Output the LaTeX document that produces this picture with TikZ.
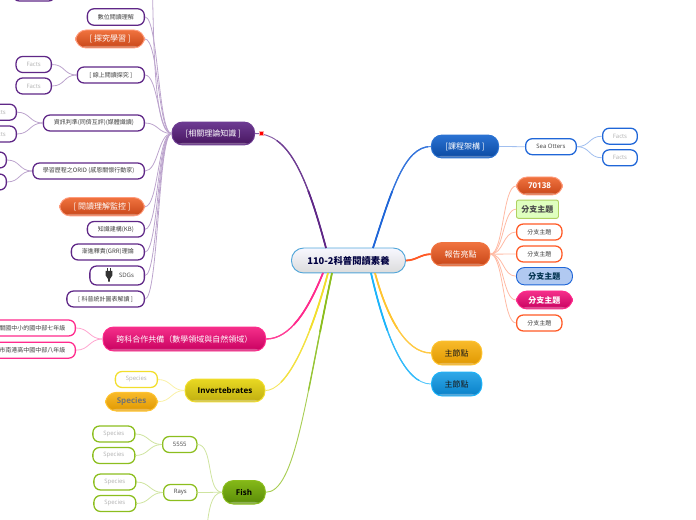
\documentclass[tikz,border=0pt]{standalone}
\usepackage{fontspec}
\setmainfont{Noto Sans CJK TC}
\newfontfamily\latinfont{Open Sans}
\newcommand{\smalltxt}{\fontsize{4.5}{5.5}\selectfont}
\newcommand{\bigtxt}{\fontsize{6}{7}\selectfont}

\definecolor{purpleA}{HTML}{6D3B92}
\definecolor{purpleB}{HTML}{47155F}
\definecolor{purpleL}{HTML}{5F2787}
\definecolor{blueA}{HTML}{2A72D2}
\definecolor{blueB}{HTML}{0B4AA2}
\definecolor{blueL}{HTML}{1F66D8}
\definecolor{redA}{HTML}{F0733F}
\definecolor{redB}{HTML}{C84618}
\definecolor{redL}{HTML}{FF5A26}
\definecolor{pinkA}{HTML}{F52F8A}
\definecolor{pinkB}{HTML}{C80060}
\definecolor{pinkL}{HTML}{FF2A8C}
\definecolor{yellowA}{HTML}{E8D822}
\definecolor{yellowB}{HTML}{C0AE10}
\definecolor{yellowL}{HTML}{F2DE2C}
\definecolor{goldA}{HTML}{F8BA2A}
\definecolor{goldB}{HTML}{E09800}
\definecolor{goldL}{HTML}{FFC430}
\definecolor{cyanA}{HTML}{30A8E8}
\definecolor{cyanB}{HTML}{0880C8}
\definecolor{cyanL}{HTML}{1CB4FA}
\definecolor{greenA}{HTML}{84B818}
\definecolor{greenB}{HTML}{5A8C08}
\definecolor{greenL}{HTML}{8CBE1E}

\tikzset{
  topic/.style n args={3}{rectangle,rounded corners=8,top color=#1,bottom color=#2,draw=#3,line width=.7pt,inner sep=0pt,
    path picture={\fill[white,opacity=.3] (path picture bounding box.south west) rectangle ([yshift=1.6pt]path picture bounding box.south east);}},
  leaf/.style={rectangle,rounded corners=5,draw=#1,fill=white,line width=.95pt,inner sep=0pt,text=black!75,font=\smalltxt},
  grey/.style={text=black!30,font=\latinfont\smalltxt},
  branch/.style={line width=.7pt,#1!75,
    postaction={draw=#1!90,line width=1pt,dash pattern=on 90pt off 900pt},
    postaction={draw=#1,line width=1.3pt,dash pattern=on 45pt off 900pt}},
  fan/.style={line width=.6pt,#1!42}
}

\begin{document}
\begin{tikzpicture}[x=.75pt,y=-.75pt]
        \useasboundingbox (0,0) rectangle (696,520);

        % root of the map
        \node[rectangle,rounded corners=9,top color=blue!3,bottom color=black!14,draw=cyanB!70,line width=.7pt,
          minimum width=85.5pt,minimum height=18.7pt,text=blue!25!black,font=\fontsize{7}{8}\selectfont\bfseries]
          (root) at (348.5,260.5) {110-2科普閱讀素養};
        \coordinate (start purple) at (326,248);
        \coordinate (start blue) at (373,248);
        \coordinate (start pink) at (323,273);
        \coordinate (start yellow) at (328,273);
        \coordinate (start green) at (332,273);
        \coordinate (start gold) at (375,273);
        \coordinate (start cyan) at (371,273);

        % main topics
        \node[topic={purpleA}{purpleB}{purpleA},minimum width=62pt,minimum height=17.2pt,text=white,font=\bigtxt] (theory) at (213.3,133.5) {[相關理論知識 ]};
        \node[topic={blueA}{blueB}{blueA},minimum width=50.5pt,minimum height=17.2pt,text=white,font=\bigtxt] (course) at (465,146.5) {[課程架構 ]};
        \node[topic={redA}{redB}{redA},minimum width=44pt,minimum height=17.5pt,text=white,font=\bigtxt] (report) at (460.5,254.2) {報告亮點};
        \node[topic={goldA}{goldB}{goldL},minimum width=37.7pt,minimum height=18pt,text=black!90,font=\bigtxt] (mainA) at (456.7,353) {主節點};
        \node[topic={cyanA}{cyanB}{cyanL},minimum width=37.7pt,minimum height=18pt,text=black!90,font=\bigtxt] (mainB) at (456.7,384) {主節點};
        \node[topic={pinkA}{pinkB}{pinkL},minimum width=122pt,minimum height=18pt,text=white,font=\bigtxt] (team) at (184.3,339) {跨科合作共備（數學領域與自然領域）};
        \node[topic={yellowA}{yellowB}{yellowL},minimum width=60pt,minimum height=17.2pt,font=\latinfont\bigtxt\bfseries] (invert) at (225,390.5) {Invertebrates};
        \node[topic={greenA}{greenB}{greenL},minimum width=32pt,minimum height=17.6pt,font=\latinfont\bigtxt\bfseries] (fish) at (244,492.3) {Fish};

        % the broad curves out of the root
        \draw[branch=purpleL] (start purple) to[out=105,in=0,out distance=60,in distance=24] (theory.east);
        \draw[branch=blueL] (start blue) to[out=72,in=180,out distance=45,in distance=20] (course.west);
        \draw[branch=redL] (root.east) to[out=0,in=180] (report.west);
        \draw[branch=goldL] (start gold) to[out=-75,in=180,out distance=31,in distance=20] (mainA.west);
        \draw[branch=cyanL] (start cyan) to[out=-77,in=180,out distance=48,in distance=20] (mainB.west);
        \draw[branch=pinkL] (start pink) to[out=-112,in=0,out distance=30,in distance=18] (team.east);
        \draw[branch=yellowL] (start yellow) to[out=-105,in=0,out distance=56,in distance=15] (invert.east);
        \draw[branch=greenL] (start green) to[out=-102,in=0,out distance=97,in distance=22] (fish.east);

        % the small red mark on the purple curve
        \node[rectangle,fill=red,draw=red!35,line width=.7pt,minimum width=3.2pt,minimum height=2.6pt,inner sep=0pt] (mark) at (261.5,133.5) {};

        % purple children, all with their right edge at 145
        \foreach \n/\y/\bw/\bh/\txt in {
          reading/17/57/16.5/數位閱讀理解,online/75/67/16/{[ 線上閱讀探究 ]},
          judge/123/101/16/{資訊判準(同儕互評)(媒體識讀)},orid/171/111.5/16/{學習歷程之ORID (感恩關懷行動家)},
          knowledge/229.3/57/15.6/知識建構(KB),grr/252/73/16/漸進釋責(GRR)理論,
          sdgs/275.5/54.5/19/{\hspace*{14pt}{\latinfont SDGs}},science/299/77.5/16/{[ 科普統計圖表解讀 ]}}
        {
          \node[leaf=purpleL,anchor=east,minimum width=\bw*.75,minimum height=\bh*.75] (\n) at (145,\y) {\txt};
        }
        \node[topic={redA}{redB}{redL!60},anchor=east,minimum width=51.7pt,minimum height=13.5pt,text=white,font=\bigtxt] (inquiry) at (145,39) {[ 探究學習 ]};
        \node[topic={redA}{redB}{redL!60},anchor=east,minimum width=63.7pt,minimum height=13.8pt,text=white,font=\bigtxt] (monitor) at (145,206.7) {[ 閱讀理解監控 ]};
        \coordinate (off top) at (152,-25);
        \foreach \n in {reading,inquiry,online,judge,orid,monitor,knowledge,grr,sdgs,science}
        {
          \draw[fan=purpleL] (theory.west) to[out=180,in=0,distance=10] (\n.east);
        }
        \draw[fan=purpleL] (theory.west) to[out=180,in=-88,out distance=14,in distance=40] (off top);

        % the plug in front of SDGs
        \fill[black!80] (105.7,271) -- (112.3,271) -- (112.3,275.5) -- (110,279) -- (109.6,282) -- (108.4,282) -- (108,279) -- (105.7,275.5) -- cycle;
        \draw[black!80,line width=.5pt] (107.5,268) -- (107.5,271) (110.5,268) -- (110.5,271);

        % facts and species on the far left
        \foreach \n/\x/\y in {factA/52/64.5,factB/52/86,factC/17/112.2,factD/17/134,
          factE/7/160,factF/7/182}
        {
          \node[leaf=purpleL,anchor=east,minimum width=26.5pt,minimum height=12pt] (\n) at (\x,\y) {\ifnum\x>10 \latinfont\color{black!30}Facts\fi};
        }
        \foreach \n/\m in {online/factA,online/factB,judge/factC,judge/factD,orid/factE,orid/factF}
        {
          \draw[fan=purpleL] (\n.west) to[out=180,in=0,distance=10] (\m.east);
        }
        \node[leaf=purpleL,minimum width=32pt,minimum height=12pt] (offpage) at (34,-7) {};

        % pink children, cut by the page
        \node[leaf=pinkL,anchor=east,inner xsep=7.5pt,minimum height=12pt] (seventh) at (76,328) {關國中小的國中部七年級};
        \node[leaf=pinkL,anchor=east,inner xsep=7.5pt,minimum height=12pt] (eighth) at (76,350.2) {市南港高中國中部八年級};
        \draw[fan=pinkL] (team.west) to[out=180,in=0,distance=10] (seventh.east);
        \draw[fan=pinkL] (team.west) to[out=180,in=0,distance=10] (eighth.east);

        % yellow children
        \node[leaf=yellowL,grey,anchor=east,minimum width=31.5pt,minimum height=12pt] (speciesA) at (158,379.5) {Species};
        \node[topic={goldA}{goldB}{goldL},anchor=east,minimum width=39pt,minimum height=14pt,text=black!55,font=\latinfont\bigtxt\bfseries] (speciesB) at (158,401.7) {Species};
        \draw[fan=yellowL] (invert.west) to[out=180,in=0,distance=10] (speciesA.east);
        \draw[fan=yellowL] (invert.west) to[out=180,in=0,distance=10] (speciesB.east);

        % green children
        \node[leaf=greenL,anchor=west,minimum width=25.7pt,minimum height=12pt,font=\latinfont\smalltxt] (five) at (162,444.5) {5555};
        \node[leaf=greenL,anchor=west,minimum width=25pt,minimum height=12pt,font=\latinfont\smalltxt] (rays) at (163,492.5) {Rays};
        \coordinate (off bottom) at (207,526);
        \draw[fan=greenL] (fish.west) to[out=180,in=0,distance=12] (five.east);
        \draw[fan=greenL] (fish.west) to[out=180,in=0,distance=12] (rays.east);
        \draw[fan=greenL] (fish.west) to[out=180,in=82,distance=9] (off bottom);
        \foreach \n/\x/\y/\p in {spA/135.5/434/five,spB/135.5/455.5/five,spC/136.5/482/rays,spD/136.5/503.5/rays}
        {
          \node[leaf=greenL,grey,anchor=east,minimum width=31.5pt,minimum height=12pt] (\n) at (\x,\y) {Species};
          \draw[fan=greenL] (\p.west) to[out=180,in=0,distance=10] (\n.east);
        }

        % blue children
        \node[leaf=blueL,anchor=west,minimum width=38pt,minimum height=12pt,font=\latinfont\smalltxt] (otters) at (525,146.7) {Sea Otters};
        \draw[fan=blueL] (course.east) to[out=0,in=180] (otters.west);
        \foreach \n/\y in {factG/136.2,factH/157.8}
        {
          \node[leaf=blueL,grey,anchor=west,minimum width=26pt,minimum height=12pt] (\n) at (602,\y) {Facts};
          \draw[fan=blueL] (otters.east) to[out=0,in=180,distance=10] (\n.west);
        }

        % orange children
        \node[topic={redA}{redB}{redL!60},anchor=west,minimum width=34.5pt,minimum height=13.5pt,text=white,font=\latinfont\bigtxt\bfseries] (num) at (516,186) {70138};
        \node[rectangle,rounded corners=1.5,fill=green!50!yellow!25,draw=greenL!70,line width=.7pt,anchor=west,minimum width=31.5pt,minimum height=13.7pt,inner sep=0pt,text=black!70,font=\bigtxt\bfseries] (subA) at (516,209.2) {分支主題};
        \node[leaf=redL,anchor=west,minimum width=34pt,minimum height=12pt] (subB) at (516,232) {分支主題};
        \node[leaf=redL,anchor=west,minimum width=34pt,minimum height=12pt] (subC) at (516,254) {分支主題};
        \node[rectangle,rounded corners=6,fill=blueL!35,draw=blueL,line width=.7pt,anchor=west,minimum width=42pt,minimum height=13pt,inner sep=0pt,text=cyanB!40!black,font=\bigtxt\bfseries] (subD) at (516,276.2) {分支主題};
        \node[topic={pinkA}{pinkB}{pinkL},anchor=west,minimum width=42pt,minimum height=13.5pt,text=white,font=\bigtxt\bfseries] (subE) at (516,300) {分支主題};
        \node[leaf=redL,anchor=west,minimum width=34pt,minimum height=12pt] (subF) at (516,323) {分支主題};
        \foreach \n in {num,subA,subB,subC,subD,subE,subF}
        {
          \draw[fan=redL] (report.east) to[out=0,in=180,distance=10] (\n.west);
        }
\end{tikzpicture}
\end{document}
